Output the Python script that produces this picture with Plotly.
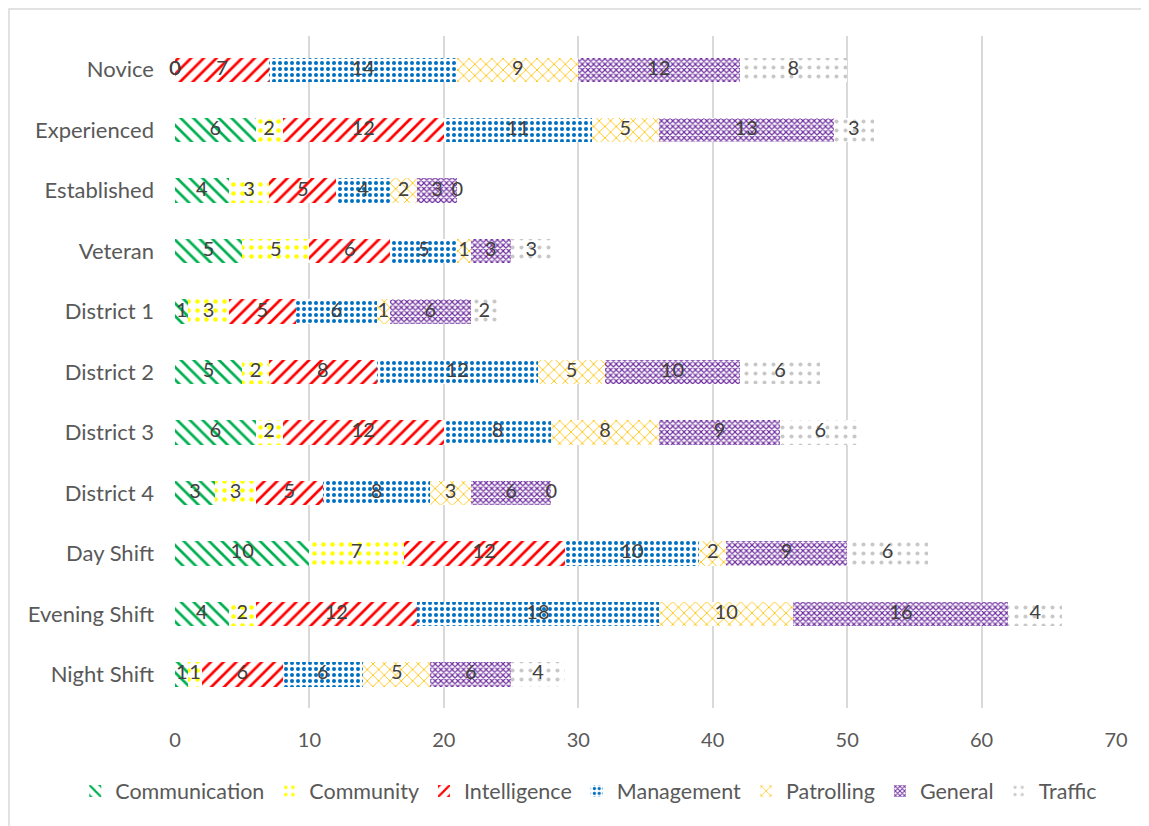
import plotly.graph_objects as go

categories = ["Novice", "Experienced", "Established", "Veteran", "District 1", "District 2",
              "District 3", "District 4", "Day Shift", "Evening Shift", "Night Shift"]
series_names = ["Communication", "Community", "Intelligence", "Management", "Patrolling", "General", "Traffic"]
communication = [0, 6, 4, 5, 1, 5, 6, 3, 10, 4, 1]
community = [0, 2, 3, 5, 3, 2, 2, 3, 7, 2, 1]
intelligence = [7, 12, 5, 6, 5, 8, 12, 5, 12, 12, 6]
management = [14, 11, 4, 5, 6, 12, 8, 8, 10, 18, 6]
patrolling = [9, 5, 2, 1, 1, 5, 8, 3, 2, 10, 5]
general = [12, 13, 3, 3, 6, 10, 9, 6, 9, 16, 6]
traffic = [8, 3, 0, 3, 2, 6, 6, 0, 6, 4, 4]
x_ticks = [0, 10, 20, 30, 40, 50, 60, 70]

series = [communication, community, intelligence, management, patrolling, general, traffic]
colors = ["#00B050", "#FFFF00", "#FF0000", "#0070C0", "#FFC000", "#7030A0", "#C8C8C8"]
shapes_pat = ["\\", ".", "/", ".", "x", "x", "."]
sizes = [9, 9, 9, 6, 8, 4, 9]
solid = [0.3, 0.2, 0.3, 0.35, 0.2, 0.5, 0.16]

FONT = "Lato"
L, R, T, B = 167, 41, 28, 126
W, H = 1149, 826
pw, ph = W - L - R, H - T - B

fig = go.Figure()
for name, vals, c, sh, sz, so in zip(series_names, series, colors, shapes_pat, sizes, solid):
    fig.add_trace(go.Bar(
        y=categories, x=vals, name=name, orientation="h",
        marker=dict(color="white", line=dict(width=0),
                    pattern=dict(shape=sh, fgcolor=c, bgcolor="white", size=sz, solidity=so,
                                 fgopacity=1, fillmode="overlay")),
        hoverinfo="x+name",
    ))

# data labels at the middle of each segment
lx, ly, lt = [], [], []
for i, cat in enumerate(categories):
    cum = 0
    for vals in series:
        v = vals[i]
        lx.append(cum + v / 2)
        ly.append(cat)
        lt.append(str(v))
        cum += v
fig.add_trace(go.Scatter(x=lx, y=ly, text=lt, mode="text", showlegend=False, cliponaxis=False,
                         textfont=dict(family=FONT, size=20, color="#404040"), hoverinfo="skip"))

fig.update_layout(
    barmode="stack", bargap=0.6,
    width=W, height=H,
    margin=dict(l=L, r=R, t=T, b=B, autoexpand=False),
    paper_bgcolor="white", plot_bgcolor="white",
    font=dict(family=FONT, size=20, color="#595959"),
    legend=dict(orientation="h", x=-0.106, xanchor="left",
                y=-83 / ph, yanchor="middle",
                font=dict(family=FONT, size=21.5, color="#595959"), traceorder="normal",
                itemwidth=30, bgcolor="rgba(0,0,0,0)"),
    xaxis=dict(range=[0, 70], tickvals=x_ticks, showgrid=True, gridcolor="#D9D9D9", gridwidth=1.5,
               zeroline=False, showline=False, ticks="", automargin=False,
               ticklabelstandoff=18, tickfont=dict(size=20, color="#595959")),
    yaxis=dict(autorange="reversed", showgrid=False, showline=False, ticks="", automargin=False,
               ticklabelstandoff=20, tickfont=dict(size=22, color="#595959")),
    shapes=[dict(type="rect", xref="paper", yref="paper", x0=-(L - 1) / pw, x1=1.2,
                 y0=-0.5, y1=1 + (T - 1) / ph,
                 line=dict(color="#D9D9D9", width=1.5))],
)
fig.write_html("out.html")
